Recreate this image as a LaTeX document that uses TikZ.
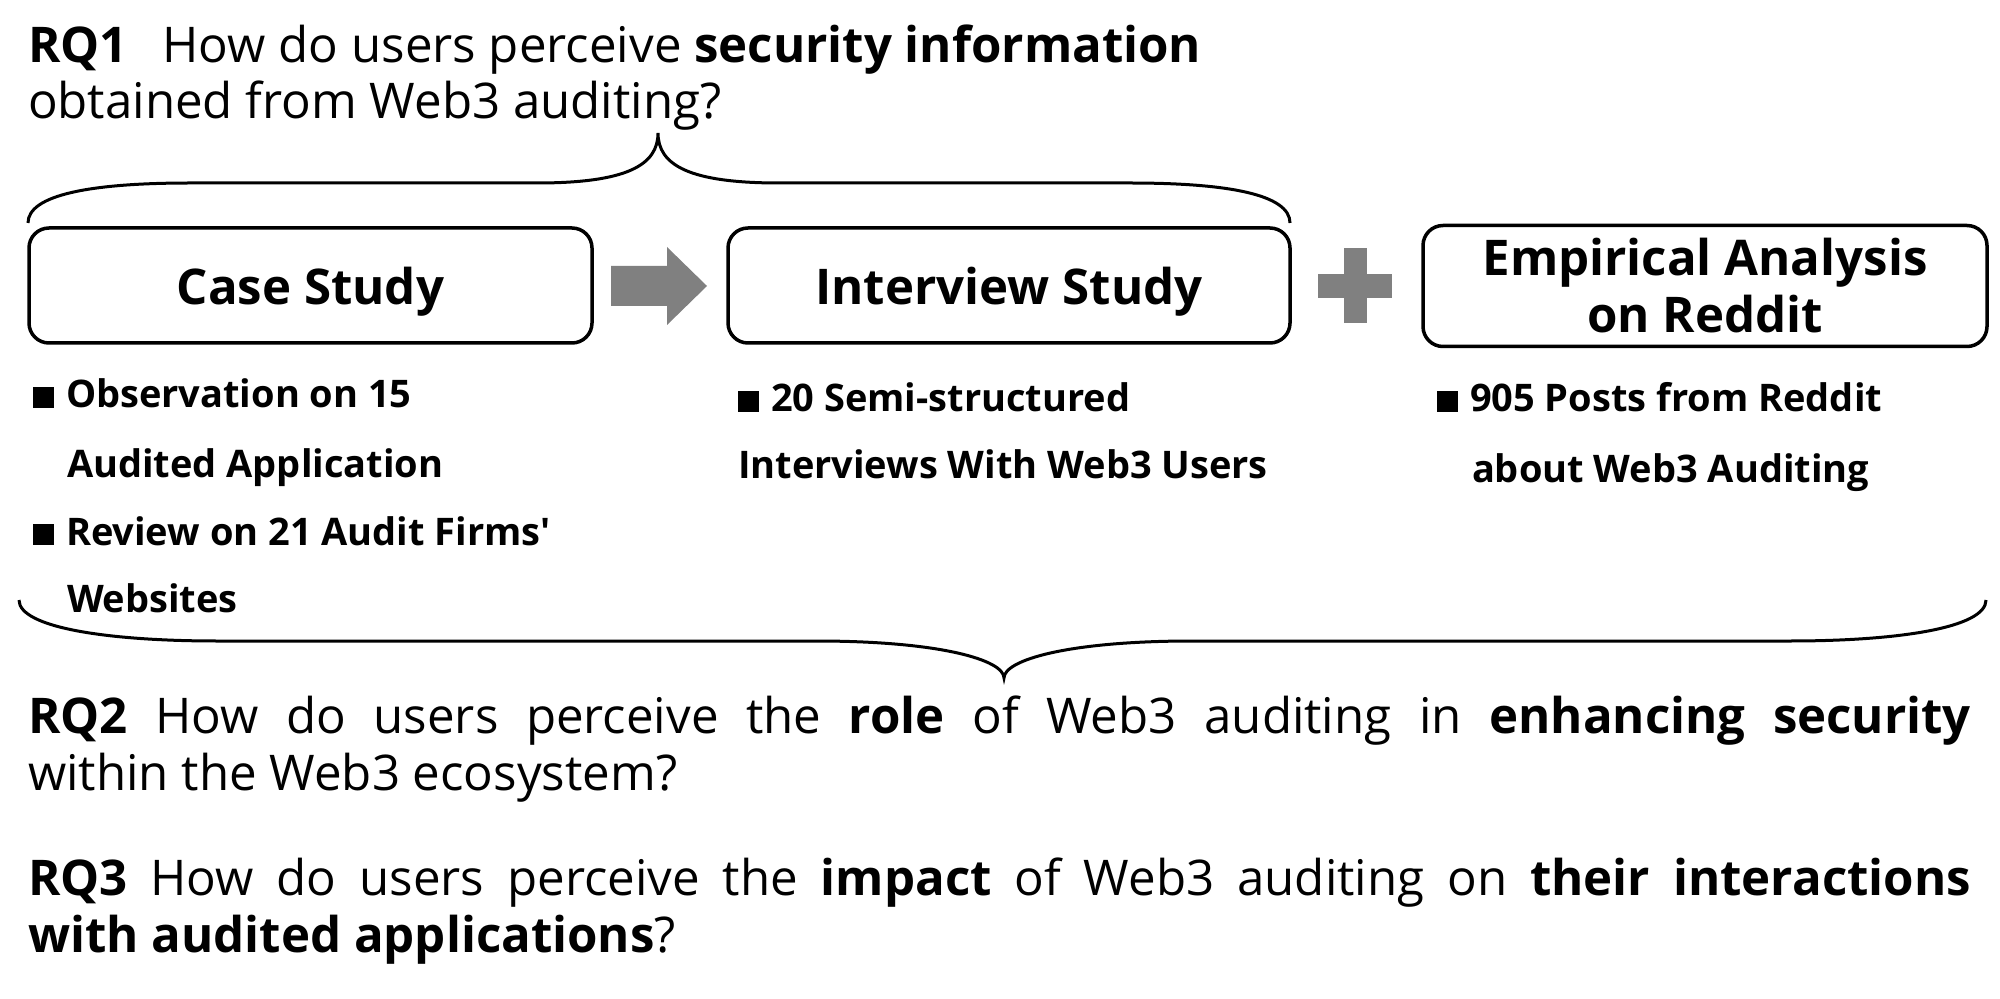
\documentclass[tikz,border=0pt]{standalone}
\usepackage{fontspec}
\setmainfont{Open Sans}
\newcommand{\bsq}{\rule{10.5pt}{10.5pt}}
\begin{document}
\begin{tikzpicture}[x=0.5pt,y=-0.5pt,
  every node/.style={inner sep=0pt, outer sep=0pt},
  box/.style={draw, line width=1.75pt, rounded corners=10pt, font=\fontsize{24.6}{28.5}\selectfont\bfseries, align=center},
  brace/.style={line width=1.5pt},
  rq/.style={anchor=base west, font=\fontsize{24.6}{28}\selectfont},
  bul/.style={anchor=base west, font=\fontsize{19}{22}\selectfont\bfseries},
  gfill/.style={fill=black!50, draw=none}]
\useasboundingbox (0,0) rectangle (2000,999);
% RQ1
\node[rq] (rq1a) at (28,63) {\textbf{RQ1}\hspace{0.45em} How do users perceive \textbf{security information}};
\node[rq] (rq1b) at (28,119) {obtained from Web3 auditing?};
% top brace
\coordinate (tb) at (658,133);
\draw[brace] (28,223) .. controls (28,195) and (90,183) .. (190,183) -- (537,183)
  .. controls (627,183) and (658,165) .. (tb)
  .. controls (658,165) and (689,183) .. (779,183) -- (1130,183)
  .. controls (1230,183) and (1290,195) .. (1290,223);
% boxes
\node[box, text depth=0pt, minimum width=281.5pt, minimum height=57.5pt] (case) at (310.5,285.5) {Case Study};
\node[box, text depth=0pt, minimum width=281pt, minimum height=57.5pt] (intv) at (1009,285.5) {Interview Study};
\node[box, minimum width=282pt, minimum height=60.5pt] (emp) at (1705,286) {Empirical Analysis\\on Reddit};
% arrow
\fill[gfill] (611,266) -- (667,266) -- (667,247) -- (707,286) -- (667,325) -- (667,306) -- (611,306) -- cycle;
% plus
\fill[gfill] (1344,248) rectangle (1367,323);
\fill[gfill] (1318,274) rectangle (1392,298);
% bullets
\node[bul] (b1a) at (33,408) {\bsq\hspace{6pt}Observation on 15};
\node[bul] (b1b) at (67,478) {Audited Application};
\node[bul] (b2a) at (33,545) {\bsq\hspace{6pt}Review on 21 Audit Firms\textquotesingle};
\node[bul] (b2b) at (67,612) {Websites};
\node[bul] (b3a) at (738,412) {\bsq\hspace{6pt}20 Semi-structured};
\node[bul] (b3b) at (738,479) {Interviews With Web3 Users};
\node[bul] (b4a) at (1437,412) {\bsq\hspace{6pt}905 Posts from Reddit};
\node[bul] (b4b) at (1472,482) {about Web3 Auditing};
% bottom brace
\coordinate (bb) at (1004,678);
\draw[brace] (19,600) .. controls (19,628) and (110,641) .. (217,641) -- (816,641)
  .. controls (940,641) and (1004,660) .. (bb)
  .. controls (1004,660) and (1068,641) .. (1192,641) -- (1790,641)
  .. controls (1897,641) and (1986,628) .. (1986,600);
% RQ2 / RQ3
\node[rq] (rq2a) at (28,733) {\makebox[971.5pt][s]{\textbf{RQ2} How do users perceive the \textbf{role} of Web3 auditing in \textbf{enhancing security}}};
\node[rq] (rq2b) at (28,790) {within the Web3 ecosystem?};
\node[rq] (rq3a) at (28,895) {\makebox[971.5pt][s]{\textbf{RQ3} How do users perceive the \textbf{impact} of Web3 auditing on \textbf{their interactions}}};
\node[rq] (rq3b) at (28,952) {\textbf{with audited applications}?};
\end{tikzpicture}
\end{document}
